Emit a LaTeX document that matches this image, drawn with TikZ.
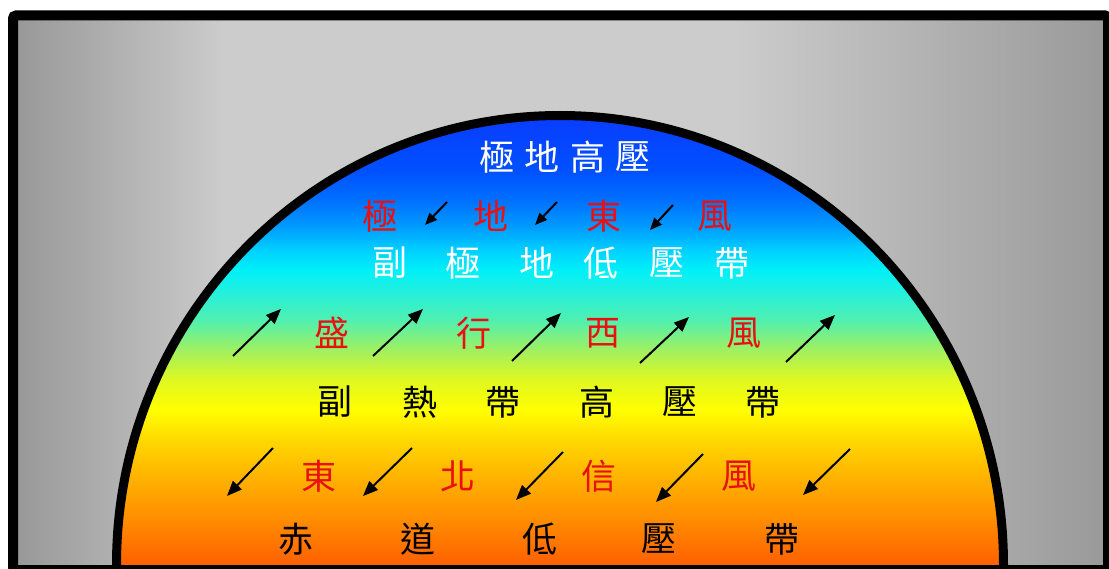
\documentclass[tikz,border=0pt]{standalone}
\usepackage{fontspec}
\newfontfamily\cjk{Noto Sans CJK TC}
\usetikzlibrary{arrows.meta}
\definecolor{g1}{HTML}{999999}
\definecolor{g2}{HTML}{9C9C9C}
\definecolor{g3}{HTML}{CCCCCC}
\definecolor{d01}{HTML}{FF6000}
\definecolor{d02}{HTML}{FF8C00}
\definecolor{d03}{HTML}{FFB000}
\definecolor{d04}{HTML}{FFD800}
\definecolor{d05}{HTML}{FFFF00}
\definecolor{d06}{HTML}{E0F820}
\definecolor{d07}{HTML}{A0F060}
\definecolor{d08}{HTML}{50F0B0}
\definecolor{d09}{HTML}{20F0E0}
\definecolor{d10}{HTML}{00F0F8}
\definecolor{d11}{HTML}{00D0FF}
\definecolor{d12}{HTML}{0098FF}
\definecolor{d13}{HTML}{0070FF}
\definecolor{d14}{HTML}{0050FF}
\definecolor{d15}{HTML}{0A3CFF}
\definecolor{windred}{HTML}{E81010}
\pgfdeclarehorizontalshading{grayshade}{100bp}{color(0bp)=(g1); color(25bp)=(g1); color(25.64bp)=(g2); color(34.53bp)=(g3); color(58.01bp)=(g3); color(74.36bp)=(g2); color(75bp)=(g1); color(100bp)=(g1)}
\pgfdeclareverticalshading{domeshade}{100bp}{color(0bp)=(d01); color(25bp)=(d01); color(30bp)=(d02); color(34.45bp)=(d03); color(38.9bp)=(d04); color(42.24bp)=(d05); color(45.58bp)=(d06); color(48.91bp)=(d07); color(52.25bp)=(d08); color(55.59bp)=(d09); color(57.81bp)=(d10); color(60.04bp)=(d11); color(62.82bp)=(d12); color(65.6bp)=(d13); color(68.94bp)=(d14); color(75bp)=(d15); color(100bp)=(d15)}
\begin{document}
\begin{tikzpicture}[x=1pt,y=-1pt,
  lbl/.style={inner sep=0pt, font=\cjk\fontsize{35}{35}\selectfont},
  wlbl/.style={lbl, text=white},
  rlbl/.style={lbl, text=windred},
  blbl/.style={lbl, text=black},
  wind/.style={line width=2pt, -{Triangle[length=15pt,width=12pt]}},
  smallwind/.style={line width=2pt, -{Triangle[length=12pt,width=10pt]}}]
\useasboundingbox (0,0) rectangle (1109,569);
% background
\shade[shading=grayshade] (18,21) rectangle (1104,566);
% dome
\shade[shading=domeshade] (116.5,565) arc[start angle=180, end angle=360, x radius=443.5, y radius=449.5] -- cycle;
\draw[line width=9pt] (116.5,565) arc[start angle=180, end angle=360, x radius=443.5, y radius=449.5];
% frame
\draw[line width=10pt, rounded corners=3pt] (13,15.5) rectangle (1108,570);
% row 1
\node[wlbl] (r1a) at (497,157) {極};
\node[wlbl] (r1b) at (542,157) {地};
\node[wlbl] (r1c) at (588,157) {高};
\node[wlbl] (r1d) at (633,157) {壓};
% row 2
\node[rlbl] (r2a) at (380,216) {極};
\node[rlbl] (r2b) at (491,216) {地};
\node[rlbl] (r2c) at (604,216) {東};
\node[rlbl] (r2d) at (715,216) {風};
% row 3
\node[wlbl] (r3a) at (390,263) {副};
\node[wlbl] (r3b) at (463,263) {極};
\node[wlbl] (r3c) at (537,263) {地};
\node[wlbl] (r3d) at (601,263) {低};
\node[wlbl] (r3e) at (667,263) {壓};
\node[wlbl] (r3f) at (732,263) {帶};
% row 4
\node[rlbl] (r4a) at (332,333) {盛};
\node[rlbl] (r4b) at (474,333) {行};
\node[rlbl] (r4c) at (603,333) {西};
\node[rlbl] (r4d) at (744,333) {風};
% row 5
\node[blbl] (r5a) at (335,402) {副};
\node[blbl] (r5b) at (420,402) {熱};
\node[blbl] (r5c) at (503,402) {帶};
\node[blbl] (r5d) at (597,402) {高};
\node[blbl] (r5e) at (680,402) {壓};
\node[blbl] (r5f) at (763,402) {帶};
% row 6
\node[rlbl] (r6a) at (319,476) {東};
\node[rlbl] (r6b) at (458,476) {北};
\node[rlbl] (r6c) at (599,476) {信};
\node[rlbl] (r6d) at (739,476) {風};
% row 7
\node[blbl] (r7a) at (296,539) {赤};
\node[blbl] (r7b) at (418,539) {道};
\node[blbl] (r7c) at (540,539) {低};
\node[blbl] (r7d) at (659,539) {壓};
\node[blbl] (r7e) at (782,539) {帶};
% polar easterlies arrows
\coordinate (p1s) at (447,202); \coordinate (p1e) at (425,225);
\coordinate (p2s) at (557,202); \coordinate (p2e) at (535,225);
\coordinate (p3s) at (673,205); \coordinate (p3e) at (650,230);
\draw[smallwind] (p1s) -- (p1e);
\draw[smallwind] (p2s) -- (p2e);
\draw[smallwind] (p3s) -- (p3e);
% westerlies arrows
\coordinate (w1s) at (233,356); \coordinate (w1e) at (281,309);
\coordinate (w2s) at (373,356); \coordinate (w2e) at (423,309);
\coordinate (w3s) at (512,361); \coordinate (w3e) at (561,313);
\coordinate (w4s) at (640,363); \coordinate (w4e) at (689,317);
\coordinate (w5s) at (786,362); \coordinate (w5e) at (835,315);
\draw[wind] (w1s) -- (w1e);
\draw[wind] (w2s) -- (w2e);
\draw[wind] (w3s) -- (w3e);
\draw[wind] (w4s) -- (w4e);
\draw[wind] (w5s) -- (w5e);
% trade wind arrows
\coordinate (t1s) at (273,448); \coordinate (t1e) at (227,496);
\coordinate (t2s) at (412,448); \coordinate (t2e) at (363,496);
\coordinate (t3s) at (563,452); \coordinate (t3e) at (516,500);
\coordinate (t4s) at (703,454); \coordinate (t4e) at (656,502);
\coordinate (t5s) at (850,449); \coordinate (t5e) at (803,495);
\draw[wind] (t1s) -- (t1e);
\draw[wind] (t2s) -- (t2e);
\draw[wind] (t3s) -- (t3e);
\draw[wind] (t4s) -- (t4e);
\draw[wind] (t5s) -- (t5e);
\end{tikzpicture}
\end{document}
